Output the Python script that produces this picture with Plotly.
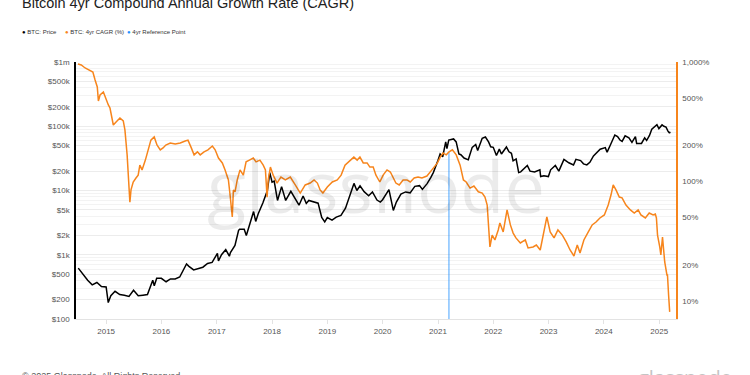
import plotly.graph_objects as go
import pandas as pd

# ---------------- DATA ----------------
price_dates = [
    "2014-07-01", "2014-08-01", "2014-09-01", "2014-10-01", "2014-11-01", "2014-12-01",
    "2015-01-01", "2015-01-15", "2015-02-01", "2015-03-01", "2015-04-01", "2015-05-01",
    "2015-06-01", "2015-07-01", "2015-08-01", "2015-09-01", "2015-10-01", "2015-11-05",
    "2015-11-15", "2015-12-01", "2016-01-01", "2016-02-01", "2016-03-01", "2016-04-01",
    "2016-05-01", "2016-06-15", "2016-07-01", "2016-08-01", "2016-09-01", "2016-10-01",
    "2016-11-01", "2016-12-01", "2017-01-05", "2017-01-12", "2017-02-01", "2017-03-01",
    "2017-03-25", "2017-04-01", "2017-05-01", "2017-05-25", "2017-06-01", "2017-07-01",
    "2017-07-15", "2017-08-01", "2017-09-01", "2017-09-15", "2017-10-01", "2017-11-01",
    "2017-12-01", "2017-12-17", "2018-01-01", "2018-01-15", "2018-02-06", "2018-03-05",
    "2018-04-01", "2018-05-05", "2018-06-01", "2018-06-28", "2018-07-25", "2018-08-15",
    "2018-09-01", "2018-10-01", "2018-11-01", "2018-11-25", "2018-12-15", "2019-01-01",
    "2019-02-01", "2019-03-01", "2019-04-01", "2019-05-01", "2019-06-01", "2019-06-26",
    "2019-07-15", "2019-08-05", "2019-09-01", "2019-10-01", "2019-10-26", "2019-11-25",
    "2019-12-17", "2020-01-01", "2020-02-12", "2020-03-12", "2020-04-01", "2020-05-01",
    "2020-06-01", "2020-07-01", "2020-08-01", "2020-09-01", "2020-09-20", "2020-10-21",
    "2020-11-15", "2020-12-01", "2020-12-31", "2021-01-15", "2021-02-01", "2021-02-21",
    "2021-03-01", "2021-03-13", "2021-04-14", "2021-05-01", "2021-05-19", "2021-06-01",
    "2021-06-22", "2021-07-20", "2021-08-15", "2021-09-07", "2021-09-20", "2021-10-20",
    "2021-11-10", "2021-12-01", "2021-12-15", "2022-01-01", "2022-01-22", "2022-02-10",
    "2022-02-24", "2022-03-29", "2022-04-15", "2022-05-01", "2022-05-12", "2022-06-01",
    "2022-06-18", "2022-07-01", "2022-08-14", "2022-09-01", "2022-10-01", "2022-11-05",
    "2022-11-10", "2022-12-01", "2022-12-31", "2023-01-15", "2023-02-15", "2023-03-10",
    "2023-04-13", "2023-05-15", "2023-06-15", "2023-07-01", "2023-08-01", "2023-08-20",
    "2023-09-11", "2023-10-01", "2023-10-25", "2023-12-08", "2024-01-11", "2024-01-23",
    "2024-02-15", "2024-03-14", "2024-04-01", "2024-04-17", "2024-05-01", "2024-05-21",
    "2024-06-15", "2024-07-05", "2024-07-28", "2024-08-05", "2024-09-06", "2024-09-27",
    "2024-10-10", "2024-10-29", "2024-11-13", "2024-12-05", "2024-12-17", "2024-12-30",
    "2025-01-20", "2025-02-01", "2025-02-15", "2025-02-28", "2025-03-10", "2025-03-14",
]
price_values = [
    620, 500, 400, 340, 370, 320,
    315, 180, 230, 270, 240, 235,
    225, 280, 230, 235, 240, 400,
    330, 430, 430, 380, 420, 420,
    450, 720, 660, 580, 610, 640,
    730, 760, 1050, 800, 1000, 1200,
    950, 1080, 1400, 2400, 2500, 2500,
    2000, 2800, 4700, 3300, 4300, 6400,
    10000, 19000, 13500, 14000, 7000, 11500,
    7000, 9700, 7500, 5900, 8200, 6300,
    7000, 6600, 6350, 3800, 3250, 3800,
    3450, 3850, 4100, 5300, 8500, 12900,
    10000, 11800, 9600, 8300, 9500, 7100,
    6600, 7200, 10300, 4900, 6600, 8800,
    9500, 9200, 11600, 11900, 10400, 12800,
    16000, 19000, 29000, 37000, 33500, 57000,
    45000, 61000, 63500, 57000, 37000, 36000,
    32000, 30000, 47000, 52000, 42000, 65000,
    68000, 57000, 48000, 47000, 35000, 44000,
    37000, 47500, 40000, 38000, 29000, 31000,
    19000, 19500, 24500, 20000, 19400, 21000,
    16500, 17000, 16500, 21000, 24500, 20000,
    30500, 27000, 25000, 30500, 29200, 26000,
    25000, 27500, 34500, 44000, 46500, 39500,
    52000, 73000, 69000, 61000, 58000, 71000,
    66000, 56000, 69000, 54000, 54000, 66000,
    60000, 72000, 90000, 100000, 106000, 92000,
    105000, 100000, 97000, 84000, 78000, 82000,
]

# 4yr CAGR (%), dates given as decimal years
cagr_years = [
    2014.49, 2014.55, 2014.62, 2014.69, 2014.76, 2014.80, 2014.84, 2014.86, 2014.89, 2014.95,
    2015.00, 2015.04, 2015.07, 2015.11, 2015.13, 2015.18, 2015.25, 2015.31, 2015.34, 2015.38,
    2015.40, 2015.42, 2015.43, 2015.45, 2015.49, 2015.54, 2015.58, 2015.61, 2015.65, 2015.71,
    2015.76, 2015.81, 2015.87, 2015.92, 2015.98, 2016.03, 2016.08, 2016.16, 2016.25, 2016.34,
    2016.43, 2016.48, 2016.54, 2016.59, 2016.65, 2016.70, 2016.77, 2016.84, 2016.92, 2016.97,
    2017.03, 2017.10, 2017.15, 2017.21, 2017.24, 2017.28, 2017.30, 2017.33, 2017.37, 2017.42,
    2017.48, 2017.53, 2017.59, 2017.66, 2017.71, 2017.78, 2017.84, 2017.88, 2017.91, 2017.93,
    2017.97, 2018.02, 2018.09, 2018.16, 2018.24, 2018.33, 2018.42, 2018.51, 2018.60, 2018.69,
    2018.76, 2018.82, 2018.87, 2018.92, 2019.00, 2019.09, 2019.18, 2019.25, 2019.32, 2019.41,
    2019.48, 2019.54, 2019.59, 2019.65, 2019.72, 2019.77, 2019.83, 2019.88, 2019.95, 2020.01,
    2020.08, 2020.14, 2020.19, 2020.24, 2020.30, 2020.37, 2020.44, 2020.50, 2020.57, 2020.64,
    2020.71, 2020.80, 2020.89, 2020.99, 2021.04, 2021.09, 2021.15, 2021.20, 2021.26, 2021.33,
    2021.40, 2021.46, 2021.51, 2021.58, 2021.65, 2021.73, 2021.80, 2021.85, 2021.89, 2021.92,
    2021.94, 2021.98, 2022.03, 2022.09, 2022.12, 2022.18, 2022.25, 2022.31, 2022.36, 2022.41,
    2022.49, 2022.58, 2022.63, 2022.72, 2022.78, 2022.85, 2022.90, 2022.97, 2023.03, 2023.10,
    2023.17, 2023.25, 2023.32, 2023.39, 2023.46, 2023.52, 2023.57, 2023.64, 2023.72, 2023.79,
    2023.86, 2023.93, 2024.01, 2024.08, 2024.13, 2024.17, 2024.22, 2024.28, 2024.33, 2024.40,
    2024.48, 2024.55, 2024.62, 2024.67, 2024.75, 2024.82, 2024.89, 2024.93, 2024.95, 2024.97,
    2025.01, 2025.03, 2025.06, 2025.10, 2025.14, 2025.15, 2025.17, 2025.19,
]
cagr_values = [
    962, 944, 891, 858, 824, 707, 618, 472, 530, 561,
    481, 437, 412, 340, 297, 315, 340, 321, 270, 167,
    125, 93.5, 67, 85, 99, 107, 113, 137, 125, 151,
    184, 222, 236, 202, 184, 191, 202, 210, 206, 210,
    218, 222, 191, 167, 177, 167, 177, 184, 198, 184,
    157, 143, 125, 103, 77, 50.5, 85, 82, 103, 125,
    113, 146, 151, 157, 146, 151, 137, 125, 74, 103,
    132, 113, 97, 109, 103, 109, 93.5, 80, 93.5, 97,
    103, 97, 85, 80, 90, 99, 103, 113, 137, 151,
    160, 151, 160, 143, 143, 132, 132, 113, 99, 113,
    125, 120, 107, 97, 93.5, 103, 103, 99, 107, 109,
    107, 111, 125, 143, 160, 173, 167, 177, 184, 167,
    137, 103, 99, 88, 91.6, 82, 80, 74, 63.5, 39.3,
    28.3, 35.6, 32.4, 39.3, 45, 37.8, 57.8, 43.3, 37, 33.7,
    30.6, 32.4, 27.8, 28.3, 29.4, 26.7, 35.6, 50.5, 37.8, 33.7,
    39.3, 35.6, 31.2, 26.7, 23.8, 29.4, 25.2, 32.4, 37.8, 43.3,
    45.8, 49.5, 52.5, 63.5, 77, 93.5, 85, 74, 73, 63.5,
    57.8, 54.5, 57.8, 52.5, 49.5, 54.5, 52.5, 53.5, 49.5, 35.6,
    28.3, 24.3, 34.3, 21.2, 16.5, 16.5, 11.2, 8.1,
]

ref_date = "2021-03-14"
ref_value = 177

price_tickvals = [100, 200, 500, 1e3, 2e3, 5e3, 1e4, 2e4, 5e4, 1e5, 2e5, 5e5, 1e6]
price_ticktext = ["$100", "$200", "$500", "$1k", "$2k", "$5k", "$10k", "$20k",
                  "$50k", "$100k", "$200k", "$500k", "$1m"]
cagr_tickvals = [10, 20, 50, 100, 200, 500, 1000]
cagr_ticktext = ["10%", "20%", "50%", "100%", "200%", "500%", "1,000%"]
year_ticks = [str(y) for y in range(2015, 2026)]

# ---------------- STYLE ----------------
BLACK = "#000000"
ORANGE = "#f7851c"
BLUE = "#1e90ff"
FONT = "Liberation Sans"
PRICE_RANGE = [2, 6]
CAGR_RANGE = [0.849, 3.0]


def dec_year_to_ts(v):
    y = int(v)
    start = pd.Timestamp(year=y, month=1, day=1)
    end = pd.Timestamp(year=y + 1, month=1, day=1)
    return start + (end - start) * (v - y)


cagr_dates = [dec_year_to_ts(v) for v in cagr_years]

minor_vals = []
for e in range(2, 7):
    for m in range(1, 10):
        minor_vals.append(m * 10 ** e)

fig = go.Figure()

fig.add_trace(go.Scatter(
    x=[ref_date, ref_date], y=[10 ** CAGR_RANGE[0], ref_value],
    mode="lines", line=dict(color=BLUE, width=1.8), opacity=0.45,
    yaxis="y2", showlegend=False, hoverinfo="skip"))

fig.add_trace(go.Scatter(
    x=pd.to_datetime(price_dates), y=price_values, mode="lines",
    line=dict(color=BLACK, width=1.5), name="BTC: Price", showlegend=False))

fig.add_trace(go.Scatter(
    x=cagr_dates, y=cagr_values, mode="lines",
    line=dict(color=ORANGE, width=1.5), name="BTC: 4yr CAGR (%)",
    yaxis="y2", showlegend=False))

fig.update_layout(
    width=750, height=375,
    margin=dict(l=76, r=74, t=62, b=56),
    paper_bgcolor="white", plot_bgcolor="white",
    font=dict(family=FONT, color="#555"),
    xaxis=dict(
        type="date", range=["2014-06-16", "2025-04-22"],
        tickvals=[f"{y}-01-01" for y in year_ticks], ticktext=year_ticks,
        tickfont=dict(size=8, color="#555"),
        showgrid=False, showline=True, linecolor="#e3e3e3", linewidth=1,
        ticks="outside", ticklen=4, tickcolor="#e3e3e3", zeroline=False),
    yaxis=dict(
        type="log", range=PRICE_RANGE, tickvals=price_tickvals, ticktext=price_ticktext,
        tickfont=dict(size=8, color="#555"), showline=True, linecolor=BLACK, linewidth=1.5,
        showgrid=True, gridcolor="#ececec", gridwidth=1, zeroline=False,
        ticks="", ticklabelstandoff=3,
        minor=dict(tickvals=minor_vals, showgrid=True, gridcolor="#f3f3f3", gridwidth=1)),
    yaxis2=dict(
        type="log", range=CAGR_RANGE, tickvals=cagr_tickvals, ticktext=cagr_ticktext,
        overlaying="y", side="right", tickfont=dict(size=8, color="#555"),
        showline=True, linecolor=ORANGE, linewidth=1.5, showgrid=False, zeroline=False,
        ticks="", ticklabelstandoff=3),
    showlegend=False,
)

ann = []
# title
ann.append(dict(text="Bitcoin 4yr Compound Annual Growth Rate (CAGR)", x=-0.0933, y=1.229,
                xref="paper", yref="paper", xanchor="left", yanchor="middle",
                showarrow=False, font=dict(size=14.5, color="#222", family=FONT)))
# legend
legend_items = [("BTC: Price", BLACK, -0.0933), ("BTC: 4yr CAGR (%)", ORANGE, -0.0217),
                ("4yr Reference Point", BLUE, 0.0817)]
for label, col, px in legend_items:
    ann.append(dict(text=f"<span style='color:{col}'>●</span> {label}", x=px, y=1.1167,
                    xref="paper", yref="paper", xanchor="left", yanchor="middle",
                    showarrow=False, font=dict(size=6, color="#333", family=FONT)))
# watermark
ann.append(dict(text="glassnode", x=0.5, y=0.52, xref="paper", yref="paper",
                xanchor="center", yanchor="middle", showarrow=False,
                font=dict(size=72, color="rgba(0,0,0,0.08)", family="Open Sans")))
# footer
ann.append(dict(text="© 2025 Glassnode. All Rights Reserved.", x=-0.0933, y=-0.222,
                xref="paper", yref="paper", xanchor="left", yanchor="middle",
                showarrow=False, font=dict(size=9, color="#555", family=FONT)))
ann.append(dict(text="glassnode", x=1.015, y=-0.228, xref="paper", yref="paper",
                xanchor="center", yanchor="middle", showarrow=False,
                font=dict(size=20, color="#c4c4c4", family="Open Sans")))
fig.update_layout(annotations=ann)

fig.write_html("out.html", config={"displayModeBar": False},
               post_script="document.body.style.margin='0px';")
